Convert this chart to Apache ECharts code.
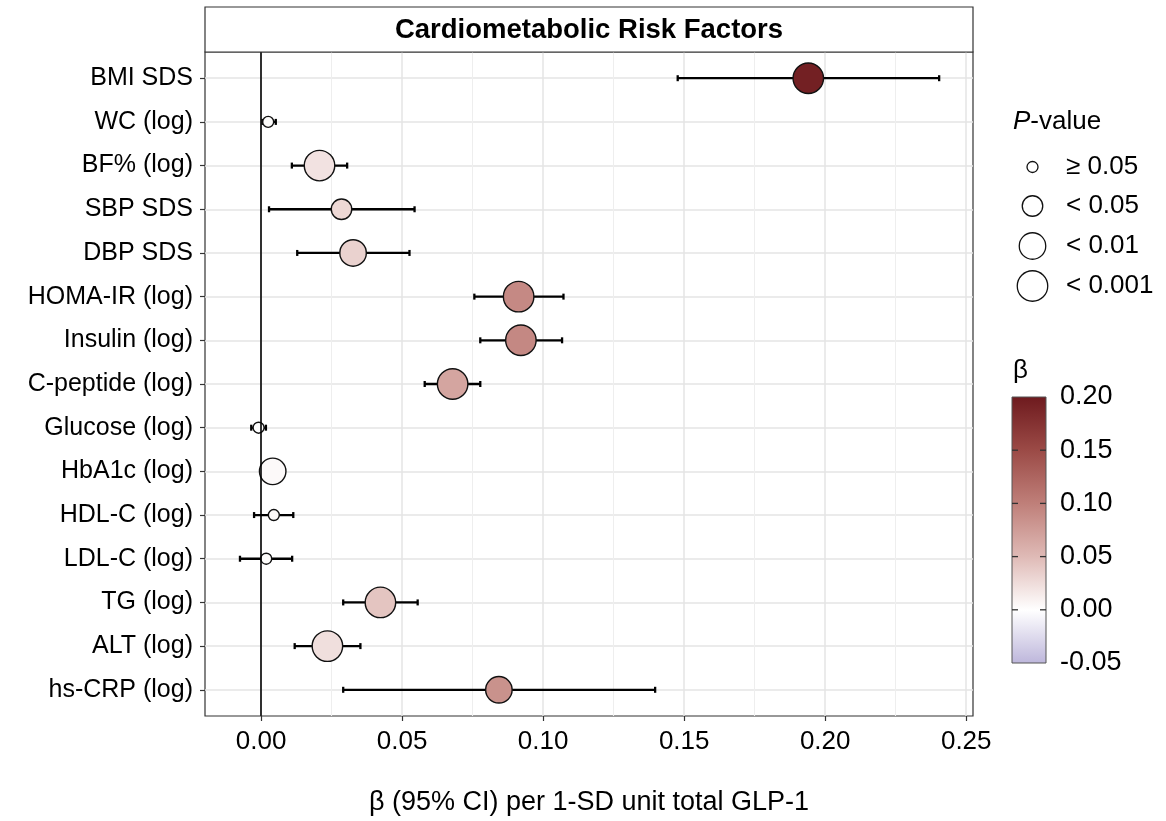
<!DOCTYPE html>
<html>
<head>
<meta charset="utf-8">
<script src="https://cdn.jsdelivr.net/npm/echarts@6/dist/echarts.min.js"></script>
<style>html,body{margin:0;padding:0;background:#fff;}#c{width:1166px;height:821px;}</style>
</head>
<body>
<div id="c"></div>
<script>
// ---- data ----
const labels = ['BMI SDS','WC (log)','BF% (log)','SBP SDS','DBP SDS','HOMA-IR (log)','Insulin (log)','C-peptide (log)','Glucose (log)','HbA1c (log)','HDL-C (log)','LDL-C (log)','TG (log)','ALT (log)','hs-CRP (log)'];
const beta  = [0.194, 0.0025, 0.0207, 0.0285, 0.0326, 0.0913, 0.0921, 0.0679, -0.0009, 0.0041, 0.0045, 0.0018, 0.0423, 0.0235, 0.0843];
const lower = [0.1477, 0.0005, 0.0109, 0.0028, 0.0128, 0.0756, 0.0777, 0.0580, -0.0035, 0.0012, -0.0025, -0.0075, 0.0291, 0.0119, 0.0291];
const upper = [0.2404, 0.0052, 0.0305, 0.0544, 0.0526, 0.1072, 0.1067, 0.0777, 0.0017, 0.0070, 0.0114, 0.0110, 0.0555, 0.0352, 0.1397];
const pCat  = [3, 0, 3, 1, 2, 3, 3, 3, 0, 2, 0, 0, 3, 3, 2];
const pLabels = ['≥ 0.05', '< 0.05', '< 0.01', '< 0.001'];
const xTicks = [0, 0.05, 0.10, 0.15, 0.20, 0.25];
const xMinorTicks = [0.025, 0.075, 0.125, 0.175, 0.225];
const cbTicks = [-0.05, 0, 0.05, 0.10, 0.15, 0.20];
const title = 'Cardiometabolic Risk Factors';
const xTitle = 'β (95% CI) per 1-SD unit total GLP-1';

// ---- styles / layout ----
const FONT = "'Liberation Sans', Arial, Helvetica, sans-serif";
const pSizes = [11, 20.5, 26.5, 30.5];
const colorStops = ['#BDB6DB', '#FFFFFF', '#DFBAB6', '#BF7F79', '#9B4A46', '#6E1A1E'];
const cbMin = -0.05, cbMax = 0.20;
const G = {left: 205, top: 52, width: 768, height: 664};
const xMin = -0.0199, xMax = 0.2524;

const chart = echarts.init(document.getElementById('c'), null, {renderer: 'canvas'});

const idx = labels.map((_, i) => i);
const errData = idx.map(i => [lower[i], upper[i], i]);
const ptData = idx.map(i => [beta[i], i, pCat[i]]);

const graphics = [];
// strip
graphics.push({type: 'rect', shape: {x: G.left, y: 7, width: G.width, height: G.top - 7},
  style: {fill: '#fff', stroke: '#333', lineWidth: 1.2}, z: 10});
graphics.push({type: 'text', x: G.left + G.width / 2, y: 30, z: 11,
  style: {text: title, font: 'bold 27.5px ' + FONT, fill: '#000', align: 'center', verticalAlign: 'middle'}});
// P-value legend
graphics.push({type: 'text', x: 1013, y: 122, z: 11,
  style: {text: '{i|P}-value', rich: {i: {fontStyle: 'italic', fontSize: 26, fontFamily: FONT, fill: '#000'}},
    fontSize: 26, fontFamily: FONT, fill: '#000', align: 'left', verticalAlign: 'middle'}});
const legY = [167, 206, 246, 286];
pLabels.forEach((t, k) => {
  graphics.push({type: 'circle', shape: {cx: 1032.5, cy: legY[k], r: pSizes[k] / 2},
    style: {fill: '#fff', stroke: '#111', lineWidth: 1.3}, z: 11});
  graphics.push({type: 'text', x: 1066, y: legY[k], z: 11,
    style: {text: t, fontSize: 26, fontFamily: FONT, fill: '#000', align: 'left', verticalAlign: 'middle'}});
});
// colour bar
const cb = {x: 1012, y: 397, w: 34, h: 266};
const cbY = v => cb.y + cb.h - (v - cbMin) / (cbMax - cbMin) * cb.h;
graphics.push({type: 'text', x: 1013, y: 371, z: 11,
  style: {text: 'β', fontSize: 26, fontFamily: FONT, fill: '#000', align: 'left', verticalAlign: 'middle'}});
graphics.push({type: 'rect', shape: {x: cb.x, y: cb.y, width: cb.w, height: cb.h}, z: 11,
  style: {stroke: '#555', lineWidth: 1,
    fill: new echarts.graphic.LinearGradient(0, 1, 0, 0,
      colorStops.map((c, k) => ({offset: k / (colorStops.length - 1), color: c})))}});
cbTicks.forEach(v => {
  const y = cbY(v);
  if (v > cbMin && v < cbMax) {
    graphics.push({type: 'line', shape: {x1: cb.x, y1: y, x2: cb.x + 6, y2: y}, style: {stroke: '#333', lineWidth: 1.3}, z: 12});
    graphics.push({type: 'line', shape: {x1: cb.x + cb.w - 6, y1: y, x2: cb.x + cb.w, y2: y}, style: {stroke: '#333', lineWidth: 1.3}, z: 12});
  }
  graphics.push({type: 'text', x: 1060, y: y, z: 11,
    style: {text: v.toFixed(2), fontSize: 27, fontFamily: FONT, fill: '#000', align: 'left', verticalAlign: 'middle'}});
});

const option = {
  animation: false,
  backgroundColor: '#fff',
  textStyle: {fontFamily: FONT},
  grid: {left: G.left, top: G.top, width: G.width, height: G.height, show: true,
    borderColor: '#333', borderWidth: 1.2, backgroundColor: 'transparent', containLabel: false, outerBoundsMode: 'none'},
  visualMap: {show: false, type: 'continuous', seriesIndex: 1, dimension: 0, min: cbMin, max: cbMax,
    inRange: {color: colorStops}},
  xAxis: [{
    type: 'value', min: xMin, max: xMax, position: 'bottom',
    axisLine: {show: false, onZero: false},
    axisTick: {show: true, length: 5, lineStyle: {color: '#333', width: 1.2}, customValues: xTicks},
    axisLabel: {show: true, customValues: xTicks, margin: 13, fontSize: 26, color: '#000', fontFamily: FONT,
      formatter: v => v.toFixed(2)},
    splitLine: {show: true, lineStyle: {color: '#E5E5E5', width: 1.5}},
    name: xTitle, nameLocation: 'middle', nameGap: 73,
    nameTextStyle: {fontSize: 27, color: '#000', fontFamily: FONT}
  }, {
    type: 'value', min: xMin, max: xMax, position: 'bottom',
    axisLine: {show: false, onZero: false},
    axisTick: {show: false, customValues: xMinorTicks},
    axisLabel: {show: false, customValues: xMinorTicks},
    splitLine: {show: true, lineStyle: {color: '#EEEEEE', width: 1.1}}
  }],
  yAxis: {
    type: 'value', min: -0.6, max: labels.length - 0.4, inverse: true,
    axisLine: {show: false, onZero: false},
    axisTick: {show: true, length: 5, lineStyle: {color: '#333', width: 1.2}, customValues: idx},
    axisLabel: {show: true, customValues: idx, margin: 12, fontSize: 25, color: '#000', fontFamily: FONT,
      formatter: v => labels[Math.round(v)]},
    splitLine: {show: true, lineStyle: {color: '#E5E5E5', width: 1.5}}
  },
  series: [{
    type: 'custom', xAxisIndex: 0, yAxisIndex: 0, z: 3,
    encode: {x: [0, 1], y: 2},
    data: errData,
    renderItem: function (params, api) {
      const y = api.value(2);
      const p0 = api.coord([api.value(0), y]);
      const p1 = api.coord([api.value(1), y]);
      const h = 3, st = {stroke: '#000', lineWidth: 2.3};
      return {type: 'group', children: [
        {type: 'line', shape: {x1: p0[0], y1: p0[1], x2: p1[0], y2: p1[1]}, style: st},
        {type: 'line', shape: {x1: p0[0], y1: p0[1] - h, x2: p0[0], y2: p0[1] + h}, style: st},
        {type: 'line', shape: {x1: p1[0], y1: p1[1] - h, x2: p1[0], y2: p1[1] + h}, style: st}
      ]};
    },
    markLine: {silent: true, symbol: 'none', label: {show: false},
      lineStyle: {color: '#000', width: 1.6, type: 'solid'}, data: [{xAxis: 0}]}
  }, {
    type: 'scatter', xAxisIndex: 0, yAxisIndex: 0, z: 4,
    data: ptData,
    symbol: 'circle',
    symbolSize: v => pSizes[v[2]],
    itemStyle: {borderColor: '#111', borderWidth: 1.4, opacity: 1}
  }],
  graphic: graphics
};
chart.setOption(option);
</script>
</body>
</html>
